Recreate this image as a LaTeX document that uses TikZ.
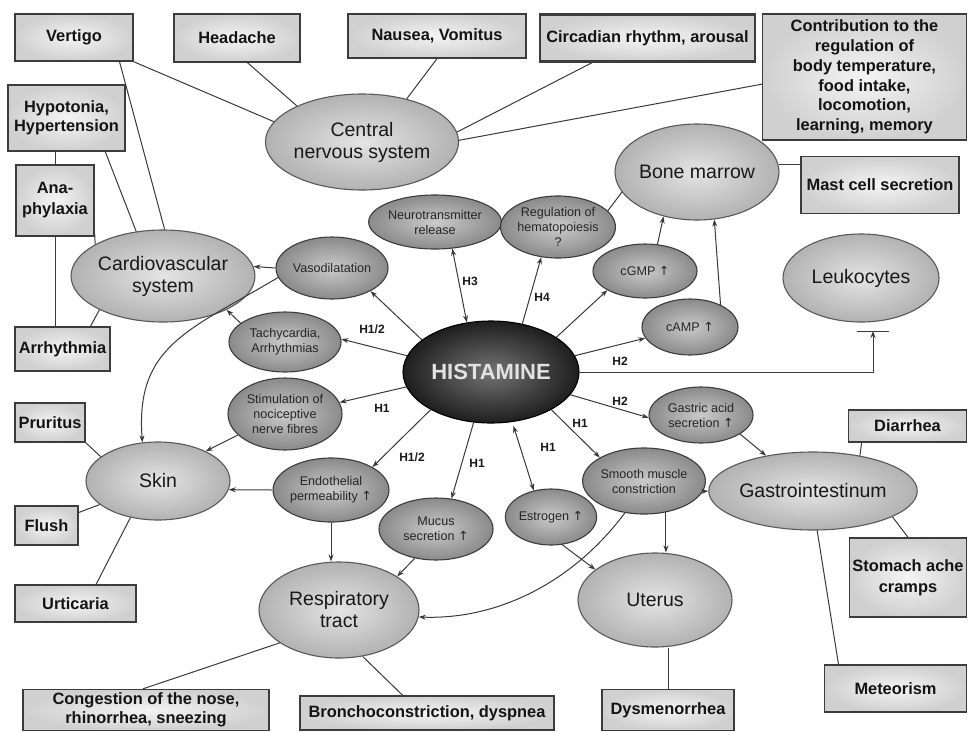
\documentclass[tikz,border=0pt]{standalone}
\usepackage{fontspec}
\setmainfont{Liberation Sans}
\newfontfamily\arrowfont{DejaVu Sans}
\usetikzlibrary{shapes.geometric,arrows.meta,calc}
\newcommand{\myup}{{\arrowfont ↑}}
\definecolor{bordc}{HTML}{3C3C3C}
\definecolor{boxin}{HTML}{F4F4F4}
\definecolor{boxout}{HTML}{D0D0D0}
\definecolor{bigin}{HTML}{E4E4E4}
\definecolor{bigout}{HTML}{B2B2B2}
\definecolor{smin}{HTML}{CACACA}
\definecolor{smout}{HTML}{8A8A8A}
\definecolor{hisin}{HTML}{747474}
\definecolor{hisout}{HTML}{1E1E1E}
\definecolor{linec}{HTML}{3A3A3A}
\definecolor{histext}{HTML}{E2E2E2}
\tikzset{
  bsz/.style 2 args={minimum width=#1pt, minimum height=#2pt},
  esz/.style 2 args={minimum width=#1pt, minimum height=#2pt},
  box/.style={rectangle, draw=bordc, line width=1.4pt, inner color=boxin, outer color=boxout,
    font=\bfseries\fontsize{16.4}{19}\selectfont, align=center, text=black!92, inner sep=0pt},
  bigell/.style={ellipse, draw=bordc!85, line width=1.1pt, inner color=bigin, outer color=bigout,
    font=\fontsize{19.5}{22}\selectfont, align=center, text=black!90, inner sep=0pt},
  smell/.style={ellipse, draw=bordc, line width=1.1pt, inner color=smin, outer color=smout,
    font=\fontsize{12.6}{15}\selectfont, align=center, text=black!85, inner sep=0pt},
  histell/.style={ellipse, draw=black, line width=1.1pt, inner color=hisin, outer color=hisout,
    font=\bfseries\fontsize{22}{24}\selectfont, text=histext, inner sep=0pt},
  hlab/.style={font=\bfseries\fontsize{12}{13}\selectfont, text=black!90, inner sep=0pt},
  conn/.style={draw=linec, line width=1pt},
  arr/.style={conn, -{Stealth[length=7pt,width=5pt]}},
  darr/.style={conn, {Stealth[length=7pt,width=5pt]}-{Stealth[length=7pt,width=5pt]}}
}
\begin{document}
\begin{tikzpicture}[x=1pt,y=-1pt]
\useasboundingbox[fill=white] (0,0) rectangle (968,731);

% ---- boxes ----
\node[box, bsz={118}{47}] (vertigo) at (74,37.5) {Vertigo};
\node[box, bsz={126}{48}] (headache) at (237,38) {Headache};
\node[box, bsz={178}{44}] (nausea) at (437,36) {Nausea, Vomitus};
\node[box, bsz={215}{47}, line width=2.6pt] (circ) at (647.5,38) {Circadian rhythm, arousal};
\node[box, bsz={204}{126}, font=\bfseries\fontsize{16.4}{19.8}\selectfont] (contrib) at (864.5,77) {Contribution to the\\regulation of\\body temperature,\\food intake,\\locomotion,\\learning, memory};
\node[box, bsz={117}{66}] (hypo) at (66.5,118) {Hypotonia,\\Hypertension};
\node[box, bsz={78}{71}, font=\bfseries\fontsize{16.4}{21}\selectfont] (ana) at (55,200.5) {Ana-\\phylaxia};
\node[box, bsz={95}{44}] (arr) at (62.5,349) {Arrhythmia};
\node[box, bsz={158}{57}] (mast) at (880,185) {Mast cell secretion};
\node[box, bsz={70}{39}] (prur) at (50,422.5) {Pruritus};
\node[box, bsz={63}{39}] (flush) at (46.5,525.5) {Flush};
\node[box, bsz={121}{37}] (urt) at (75.5,603.5) {Urticaria};
\node[box, bsz={246}{41}] (cong) at (146,710) {Congestion of the nose,\\rhinorrhea, sneezing};
\node[box, bsz={254}{34}] (bronch) at (427,713) {Bronchoconstriction, dyspnea};
\node[box, bsz={132}{41}] (dysm) at (668,710) {Dysmenorrhea};
\node[box, bsz={118}{32}] (diar) at (907.5,426) {Diarrhea};
\node[box, bsz={117}{79}, font=\bfseries\fontsize{16.4}{21}\selectfont] (stom) at (908,577.5) {Stomach ache\\cramps};
\node[box, bsz={142}{47}] (meteo) at (895.5,688.5) {Meteorism};

% ---- large ellipses ----
\node[bigell, esz={154}{96}] (cns) at (362,142) {Central\\nervous system};
\node[bigell, esz={142}{96}] (bm) at (697,172) {Bone marrow};
\node[bigell, esz={154}{92}] (cardio) at (163,276) {Cardiovascular\\system};
\node[bigell, esz={156}{88}] (leuk) at (861,278) {Leukocytes};
\node[bigell, esz={144}{78}] (skin) at (158,481) {Skin};
\node[bigell, esz={154}{78}] (gastro) at (813,491) {Gastrointestinum};
\node[bigell, esz={154}{94}] (uterus) at (655,600) {Uterus};
\node[bigell, esz={160}{96}] (resp) at (339,610) {Respiratory\\tract};

% ---- small ellipses ----
\node[smell, esz={114}{54}] (neuro) at (435,222) {Neurotransmitter\\release};
\node[smell, esz={104}{62}] (reg) at (558,227) {Regulation of\\hematopoiesis\\?};
\node[smell, esz={104}{54}] (cgmp) at (645,271) {cGMP \myup};
\node[smell, esz={96}{56}] (camp) at (690,327) {cAMP \myup};
\node[smell, esz={112}{62}] (vaso) at (332,268) {Vasodilatation};
\node[smell, esz={112}{60}] (tachy) at (285,342) {Tachycardia,\\Arrhythmias};
\node[smell, esz={114}{72}] (stim) at (285,414) {Stimulation of\\nociceptive\\nerve fibres};
\node[smell, esz={108}{64}] (endo) at (331,490) {Endothelial\\permeability \myup};
\node[smell, esz={114}{62}] (mucus) at (436,529) {Mucus\\secretion \myup};
\node[smell, esz={88}{56}] (estro) at (551,517) {Estrogen \myup};
\node[smell, esz={118}{66}] (smooth) at (644,481) {Smooth muscle\\constriction};
\node[smell, esz={104}{56}] (gastric) at (701,415) {Gastric acid\\secretion \myup};
\node[histell, esz={176}{102}] (hist) at (491,372) {HISTAMINE};

% ---- receptor labels ----
\node[hlab] (h3) at (470,281) {H3};
\node[hlab] (h4) at (542,297) {H4};
\node[hlab] (h2a) at (620,361) {H2};
\node[hlab] (h2b) at (620,401) {H2};
\node[hlab] (h1a) at (580,423) {H1};
\node[hlab] (h1b) at (548,447) {H1};
\node[hlab] (h1c) at (477,463) {H1};
\node[hlab] (h12a) at (412,457) {H1/2};
\node[hlab] (h1d) at (382,408) {H1};
\node[hlab] (h12b) at (372,329) {H1/2};

% ---- CNS connectors ----
\draw[conn] (vertigo.south east) -- (cns.167);
\draw[conn] (headache.-67) -- (cns.151);
\draw[conn] (nausea.south) -- (cns.44);
\draw[conn] (circ.204) -- (cns.6);
\draw[conn] (contrib.184) -- (cns.1);

% ---- cardiovascular connectors ----
\draw[conn] (vertigo.-28) -- (cardio.88);
\draw[conn] (hypo.-41) -- (cardio.121);
\draw[conn] (hypo.south -| ana.north) -- (ana.north);
\draw[conn] (ana.south) -- (ana.south |- arr.north);
\draw[conn] (ana.-40) -- (cardio.155);
\draw[conn] (arr.39) -- (cardio.208);

% ---- bone marrow ----
\draw[conn] (bm.5) -- (bm.5 -| mast.west);
\draw[conn] (reg.18) -- (bm.195);
\draw[arr] (cgmp.65) -- (bm.233);
\draw[arr] (camp.36) -- (bm.290);

% ---- from histamine ----
\draw[darr] (hist.116) -- (neuro.-57);
\draw[arr] (hist.57) -- (reg.241);
\draw[arr] (hist.28) -- (cgmp.207);
\draw[arr] (hist.11) -- (camp.194);
\coordinate (tee) at (873,331);
\draw[arr] (hist.east) -| (tee);
\draw[conn] ($(tee)+(-16,0)$) -- ($(tee)+(16,0)$);
\draw[arr] (hist.-16) -- (gastric.183);
\draw[arr] (hist.-32) -- (smooth.152);
\draw[darr, shorten <=4pt] (hist.-67) -- (estro.123);
\draw[arr] (hist.251) -- (mucus.63);
\draw[arr] (hist.212) -- (endo.29);
\draw[arr] (hist.190) -- (stim.12);
\draw[arr] (hist.169) -- (tachy.3);
\draw[arr] (hist.155) -- (vaso.-31);

% ---- effects ----
\draw[arr] (vaso.west) -- (cardio.6);
\draw[arr] (tachy.157) -- (cardio.-28);
\draw[arr] (vaso.190) .. controls (190,330) and (135,345) .. (skin.112);
\draw[arr] (stim.204) -- (skin.32);
\draw[arr] (endo.west) -- (skin.-7);
\draw[arr] (endo.south) -- (endo.south |- resp.north);
\draw[arr] (mucus.234) -- (resp.30);
\draw[arr] (estro.-68) -- (uterus.153);
\draw[arr] (smooth.239) .. controls (575,580) and (500,620) .. (resp.-5);
\draw[arr] (smooth.-55) -- (smooth.-55 |- uterus.north);
\draw[arr] (smooth.-10) -- (gastro.west);
\draw[arr] (gastric.-26) -- (gastro.143);

% ---- symptom boxes ----
\draw[conn] (prur.south east) -- (skin.157);
\draw[conn] (flush.22) -- (skin.202);
\draw[conn] (urt.43) -- (skin.233);
\draw[conn] (cong.98) -- (resp.209);
\draw[conn] (bronch.144) -- (resp.-63);
\draw[conn] (dysm.north) -- (dysm.north |- uterus.south);
\draw[conn] (diar.200) -- (gastro.37);
\draw[conn] (stom.north) -- (gastro.-18);
\draw[conn] (meteo.157) -- (gastro.-84);
\end{tikzpicture}
\end{document}
